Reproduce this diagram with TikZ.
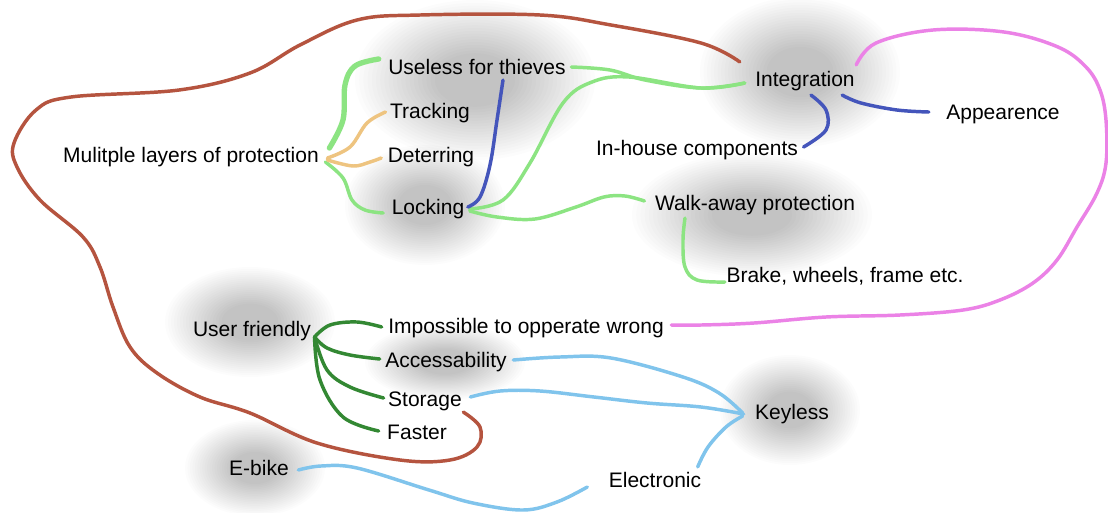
\documentclass[tikz,border=0pt]{standalone}
\usepackage{fontspec}
\setmainfont{Liberation Sans}
\usetikzlibrary{calc}
\definecolor{cbrown}{RGB}{181,84,63}
\definecolor{cgreen}{RGB}{140,228,130}
\definecolor{corange}{RGB}{238,196,128}
\definecolor{cblue}{RGB}{68,85,187}
\definecolor{cpink}{RGB}{235,130,230}
\definecolor{clblue}{RGB}{128,196,236}
\definecolor{cdgreen}{RGB}{51,136,51}
\newcommand\myblob[4]{%
  \foreach \k in {1,...,20}{%
    \fill[black,opacity=0.011] (#1,#2) ellipse [x radius={#3*0.75pt*(0.3+0.7*\k/20)}, y radius={#4*0.75pt*(0.3+0.7*\k/20)}];}}
\begin{document}
\begin{tikzpicture}[x=0.75pt,y=-0.75pt,
  lbl/.style={font=\fontsize{15.75}{19}\selectfont, inner sep=1pt, text height=11.25pt, text depth=3pt},
  con/.style={line width=2.6pt, line cap=round, line join=round},
  smoothc/.style={smooth, tension=0.6}]
\useasboundingbox (0,0) rectangle (1108,512);
\fill[white] (0,0) rectangle (1108,512);
% shadow blobs
\myblob{475}{80}{120}{80}
\myblob{425}{205}{80}{60}
\myblob{800}{72}{100}{75}
\myblob{752}{215}{120}{62}
\myblob{250}{322}{85}{55}
\myblob{445}{362}{80}{38}
\myblob{790}{410}{70}{55}
\myblob{255}{468}{70}{48}
% nodes
\node[lbl] (mlp) at (191,157) {Mulitple layers of protection};
\node[lbl] (useless) at (477,69) {Useless for thieves};
\node[lbl] (track) at (430,113) {Tracking};
\node[lbl] (deter) at (431,157) {Deterring};
\node[lbl] (lock) at (428,209) {Locking};
\node[lbl] (integ) at (805,81) {Integration};
\node[lbl] (appear) at (1003,114) {Appearence};
\node[lbl] (inhouse) at (697,150) {In-house components};
\node[lbl] (walk) at (755,205) {Walk-away protection};
\node[lbl] (brake) at (845,277) {Brake, wheels, frame etc.};
\node[lbl] (user) at (252,331) {User friendly};
\node[lbl] (imposs) at (526,328) {Impossible to opperate wrong};
\node[lbl] (access) at (446,362) {Accessability};
\node[lbl] (storage) at (425,401) {Storage};
\node[lbl] (faster) at (417,434) {Faster};
\node[lbl] (ebike) at (259,470) {E-bike};
\node[lbl] (keyless) at (792,414) {Keyless};
\node[lbl] (elec) at (655,482) {Electronic};
% brown
\draw[con,cbrown] plot[smoothc] coordinates {($(integ.north west)+(-14,-8)$) (701,43) (611,25) (540,15) (420,15) (357,20) (300,45) (250,73) (179,90) (71,97) (36,110) (14,143) (17,167) (40,200) (83,237) (100,267) (113,307) (130,347) (157,373) (200,397) (250,413) (317,443) (400,460) (450,460) (477,447) (480,427) (storage.south east)};
% light green
\draw[con,cgreen,line width=4pt] plot[smoothc] coordinates {($(mlp.east)+(9,-9)$) (343,120) (345,85) (355,66) ($(useless.west)+(-8,-10)$)};
\draw[con,cgreen] plot[smoothc] coordinates {($(mlp.east)+(5,5)$) (343,178) (352,200) (365,210) ($(lock.west)+(-7,4)$)};
\draw[con,cgreen] plot[smoothc] coordinates {($(lock.east)+(4,0)$) (503,200) (530,163) (563,103) (592,82) (629,77) (701,88) ($(integ.west)+(-9,2)$)};
\draw[con,cgreen] plot[smoothc] coordinates {($(useless.east)+(4,-2)$) (610,70) (645,80) (701,88) ($(integ.west)+(-9,2)$)};
\draw[con,cgreen] plot[smoothc] coordinates {($(lock.east)+(4,2)$) (497,217) (535,219) (576,207) (604,197) (625,196) ($(walk.west)+(-9,-4)$)};
\draw[con,cgreen] plot[smoothc] coordinates {($(walk.south)+(-70,2)$) (683,240) (685,267) (697,280) ($(brake.west)+(0,5)$)};
% orange
\draw[con,corange] plot[smoothc] coordinates {($(mlp.east)+(7,1)$) (350,147) (367,123) ($(track.west)+(-3,-1)$)};
\draw[con,corange] plot[smoothc] coordinates {($(mlp.east)+(7,3)$) (353,166) (370,162) ($(deter.west)+(-5,1)$)};
% blue
\draw[con,cblue] plot[smoothc] coordinates {($(lock.east)+(2,-2)$) (480,197) (490,165) (497,120) ($(useless.south)+(26,0)$)};
\draw[con,cblue] plot[smoothc] coordinates {($(integ.south)+(6,3)$) (826,110) (826,130) ($(inhouse.east)+(4,-3)$)};
\draw[con,cblue] plot[smoothc] coordinates {($(integ.south east)+(-14,3)$) (861,103) (897,110) ($(appear.west)+(-16,-2)$)};
% pink
\draw[con,cpink] plot[smoothc] coordinates {($(integ.north east)+(0,-5)$) (876,43) (933,30) (1004,32) (1058,47) (1086,67) (1100,90) (1106,120) (1106,163) (1097,193) (1077,227) (1057,260) (1033,283) (1000,300) (963,310) (900,315) (826,317) (754,323) (701,325) ($(imposs.east)+(6,-3)$)};
% light blue
\draw[con,clblue] plot[smoothc] coordinates {($(access.east)+(5,-2)$) (560,357) (611,358) (683,377) (719,393) ($(keyless.west)+(-11,-1)$)};
\draw[con,clblue] plot[smoothc] coordinates {($(storage.east)+(7,-4)$) (500,391) (540,391) (594,397) (647,403) (701,407) ($(keyless.west)+(-10,0)$)};
\draw[con,clblue] plot[smoothc] coordinates {($(elec.north east)+(-5,-4)$) (708,447) (726,427) ($(keyless.west)+(-11,2)$)};
\draw[con,clblue] plot[smoothc] coordinates {($(ebike.east)+(8,0)$) (321,466) (357,468) (429,490) (473,503) (523,510) (557,502) ($(elec.west)+(-20,5)$)};
% dark green
\draw[con,cdgreen] plot[smoothc] coordinates {($(user.east)+(2,6)$) (330,325) (357,322) ($(imposs.west)+(-5,-1)$)};
\draw[con,cdgreen] plot[smoothc] coordinates {($(user.east)+(2,6)$) (327,348) (350,355) ($(access.west)+(-4,-3)$)};
\draw[con,cdgreen] plot[smoothc] coordinates {($(user.east)+(2,6)$) (327,370) (350,387) ($(storage.west)+(-3,-3)$)};
\draw[con,cdgreen] plot[smoothc] coordinates {($(user.east)+(2,6)$) (320,380) (343,417) ($(faster.west)+(-7,-3)$)};
\end{tikzpicture}
\end{document}
